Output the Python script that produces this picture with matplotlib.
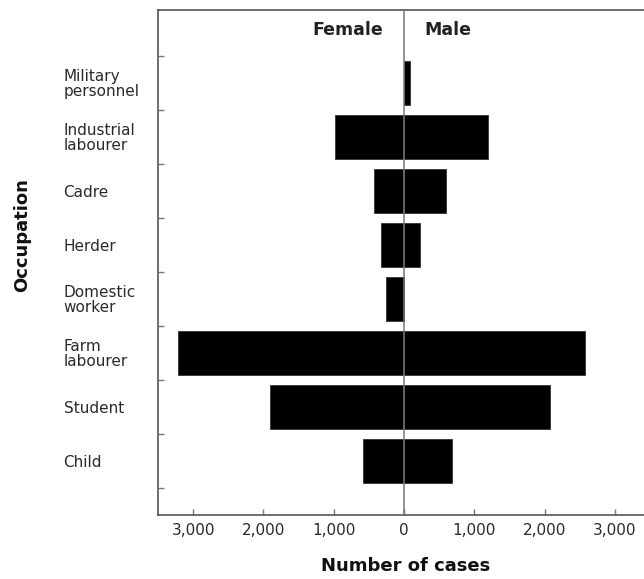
import matplotlib
matplotlib.use("Agg")
import matplotlib.pyplot as plt
from matplotlib.ticker import FuncFormatter, FixedLocator
import numpy as np

occupations = ["Child", "Student", "Farm\nlabourer", "Domestic\nworker", "Herder",
               "Cadre", "Industrial\nlabourer", "Military\npersonnel"]
female = [580, 1910, 3215, 260, 330, 425, 985, 0]
male = [685, 2075, 2570, 0, 228, 595, 1200, 80]
xticks = [-3000, -2000, -1000, 0, 1000, 2000, 3000]

plt.rcParams['font.family'] = ['DejaVu Sans']

fig = plt.figure(figsize=(6.44, 5.79), dpi=100)
W, H = 644, 579
ax = fig.add_axes([158 / W, 1 - 515 / H, 492 / W, 505 / H])

y = np.arange(len(occupations))
ax.barh(y, [-v for v in female], height=0.8, color='black', edgecolor='#333333', linewidth=0.6)
ax.barh(y, male, height=0.8, color='black', edgecolor='#333333', linewidth=0.6)
ax.axvline(0, color='#777777', linewidth=1.1, zorder=3)

ax.set_xlim(-3500, 3500)
ax.set_ylim(-1.0, 8.35)

ax.set_xticks(xticks)
ax.xaxis.set_major_formatter(FuncFormatter(lambda v, p: f"{abs(int(v)):,}"))
ax.tick_params(axis='x', direction='in', length=4, width=1, color='#777777',
               labelsize=11, labelcolor='#2a2a2a', pad=6)

ax.set_yticks(y)
ax.set_yticklabels(occupations, ha='left', fontsize=11, color='#2a2a2a', linespacing=0.95)
ax.yaxis.set_minor_locator(FixedLocator(np.arange(-0.5, len(occupations), 1.0)))
ax.tick_params(axis='y', which='major', length=0, pad=68)
ax.tick_params(axis='y', which='minor', direction='in', length=4, width=1, color='#777777')

for s in ['left', 'bottom', 'top', 'right']:
    ax.spines[s].set_color('#555555')
    ax.spines[s].set_linewidth(1.2)

ax.text(-300, 7.98, "Female", ha='right', va='center', fontsize=12.5, fontweight='bold', color='#222222')
ax.text(290, 7.98, "Male", ha='left', va='center', fontsize=12.5, fontweight='bold', color='#222222')

ax.set_xlabel("Number of cases", fontsize=13, fontweight='bold', color='#111111', va='center')
ax.xaxis.set_label_coords(0.503, -0.101)
ax.set_ylabel("Occupation", fontsize=13, fontweight='bold', color='#111111', va='center')
ax.yaxis.set_label_coords(-0.276, 0.554)

fig.savefig("out.png", dpi=100)
